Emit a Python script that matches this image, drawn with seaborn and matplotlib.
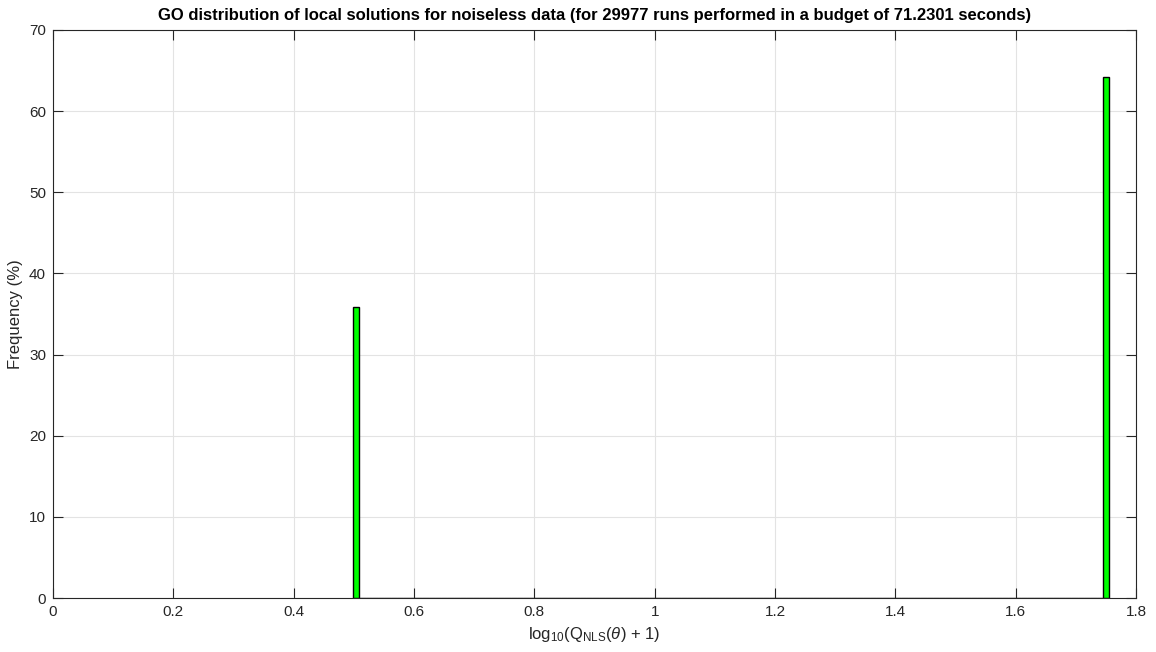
import matplotlib
matplotlib.use("Agg")
import matplotlib.pyplot as plt
import seaborn as sns

# Local-solution objective values (bin centres) and their share of runs (%)
log_q = [0.5039, 1.7503]
freq_pct = [35.85, 64.15]
n_bins = 120
bin_lo, bin_hi = 0.4986, 1.7556

x_ticks = [0, 0.2, 0.4, 0.6, 0.8, 1.0, 1.2, 1.4, 1.6, 1.8]
x_tick_labels = ["0", "0.2", "0.4", "0.6", "0.8", "1", "1.2", "1.4", "1.6", "1.8"]
y_ticks = [0, 10, 20, 30, 40, 50, 60, 70]

sns.set_style("white")
plt.rcParams["font.family"] = ["Liberation Sans", "DejaVu Sans"]
plt.rcParams["mathtext.fontset"] = "custom"
plt.rcParams["mathtext.rm"] = "Liberation Sans"
plt.rcParams["mathtext.it"] = "Liberation Sans:italic"

fig = plt.figure(figsize=(11.56, 6.52), dpi=100)
ax = fig.add_axes([0.0458, 0.0828, 0.9369, 0.8712])

sns.histplot(x=log_q, weights=freq_pct, bins=n_bins, binrange=(bin_lo, bin_hi),
             color="#00ff00", edgecolor="black", linewidth=1.0, alpha=1.0, ax=ax)

ax.set_xlim(0, 1.8)
ax.set_ylim(0, 70)
ax.set_xticks(x_ticks)
ax.set_xticklabels(x_tick_labels)
ax.set_yticks(y_ticks)
ax.grid(True, color="#e3e3e3", linewidth=0.8)
ax.set_axisbelow(True)
for s in ax.spines.values():
    s.set_color("#262626")
    s.set_linewidth(0.8)
ax.tick_params(direction="in", length=7, width=0.8, color="#262626",
               labelsize=11, labelcolor="#262626", pad=5,
               top=True, right=True, bottom=True, left=True)
ax.set_xlabel(r"log$_{10}$(Q$_{\mathrm{NLS}}$($\theta$) + 1)", fontsize=12, color="#262626", labelpad=4)
ax.set_ylabel("Frequency (%)", fontsize=12, color="#262626")
ax.set_title("GO distribution of local solutions for noiseless data "
             "(for 29977 runs performed in a budget of 71.2301 seconds)",
             fontsize=12, fontweight="bold", color="black", pad=7)

fig.savefig("out.png", dpi=100, facecolor="white")
